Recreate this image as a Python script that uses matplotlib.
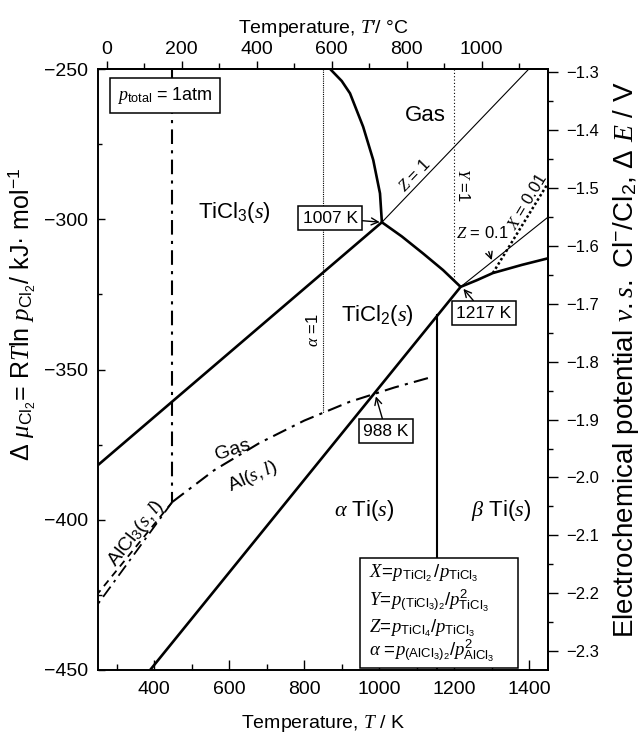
import numpy as np
import matplotlib
matplotlib.use('Agg')
import matplotlib.pyplot as plt
from matplotlib.ticker import MultipleLocator, FuncFormatter
from matplotlib.patches import Rectangle

plt.rcParams['font.family'] = ['Liberation Sans', 'Noto Sans CJK JP']
plt.rcParams['mathtext.fontset'] = 'custom'
plt.rcParams['mathtext.rm'] = 'Liberation Sans'
plt.rcParams['mathtext.sf'] = 'Liberation Sans'
plt.rcParams['mathtext.it'] = 'Liberation Serif:italic'
plt.rcParams['mathtext.bf'] = 'Liberation Sans:bold'

F2 = 192.97  # 2F, kJ per V

# --- phase boundaries (T in K, delta mu in kJ/mol) ---
ticl3_T = [250, 1007]
ticl3_mu = [-381.8, -301.0]

gas3_T = [869, 900, 922, 957, 984, 1002, 1007]
gas3_mu = [-250.0, -254.0, -258.1, -269.2, -280.3, -291.4, -301.0]

ticl2_gas_T = [1007, 1060, 1117, 1170, 1217]
ticl2_gas_mu = [-301.0, -305.7, -311.4, -316.9, -322.5]

right_T = [1217, 1260, 1303, 1380, 1450]
right_mu = [-322.5, -320.3, -317.9, -315.2, -313.0]

ti_T = [389, 1217]
ti_mu = [-450.0, -322.5]

beta_T = [1155, 1155]
beta_mu = [-331.9, -450.0]

z1_T = [1007, 1399]
z1_mu = [-301.0, -250.0]

z01_T = [1217, 1450]
z01_mu = [-322.5, -299.3]

x001_T = [1303, 1450]
x001_mu = [-317.9, -288.0]

y1_T = [1200, 1200]
y1_mu = [-250.0, -320.6]

a1_T = [850, 850]
a1_mu = [-250.0, -364.4]

# Al / AlCl3 lines
al_v_T = [448, 448]
al_v_mu = [-250.0, -394.1]

al_gas_T = [448, 560, 680, 800, 920, 1040, 1140]
al_gas_mu = [-394.1, -383.5, -374.5, -367.0, -360.8, -356.0, -352.5]

alcl3_T = [448, 250]
alcl3_mu = [-394.1, -428.0]
alcl3b_T = [448, 250]
alcl3b_mu = [-394.1, -424.5]

fig = plt.figure(figsize=(6.42, 7.34), dpi=100)
ax = fig.add_axes([98/642, 64/734, 450/642, 601/734])

thick = dict(color='black', lw=1.9, solid_capstyle='butt')
thin = dict(color='black', lw=0.8)

ax.plot(ticl3_T, ticl3_mu, **thick)
ax.plot(gas3_T, gas3_mu, **thick)
ax.plot(ticl2_gas_T, ticl2_gas_mu, **thick)
ax.plot(right_T, right_mu, **thick)
ax.plot(ti_T, ti_mu, **thick)
ax.plot(beta_T, beta_mu, color='black', lw=1.5)
ax.plot(z1_T, z1_mu, **thin)
ax.plot(z01_T, z01_mu, **thin)
ax.plot(x001_T, x001_mu, color='black', lw=1.8, ls=(0, (1, 1)))
ax.plot(y1_T, y1_mu, color='black', lw=0.8, ls=(0, (1, 2)))
ax.plot(a1_T, a1_mu, color='black', lw=0.8, ls=(0, (1, 1)))

dd = (0, (7, 3, 1.5, 3))
ax.plot(al_v_T, al_v_mu, color='black', lw=1.5, ls=dd)
ax.plot(al_gas_T, al_gas_mu, color='black', lw=1.5, ls=dd)
ax.plot(alcl3_T, alcl3_mu, color='black', lw=1.3, ls=dd)
ax.plot(alcl3b_T, alcl3b_mu, color='black', lw=1.3, ls=(0, (4, 3)))

ax.set_xlim(250, 1450)
ax.set_ylim(-450, -250)

ax.xaxis.set_major_locator(MultipleLocator(200))
ax.xaxis.set_minor_locator(MultipleLocator(100))
ax.yaxis.set_major_locator(MultipleLocator(50))
ax.yaxis.set_minor_locator(MultipleLocator(25))
minus = lambda fmt: FuncFormatter(lambda v, p: format(v, fmt).replace('-', '\u2212'))
ax.yaxis.set_major_formatter(minus('.0f'))
ax.tick_params(which='both', direction='in', top=False, right=False, labelsize=14)
ax.tick_params(axis='x', which='major', length=7, width=1, pad=8)
ax.tick_params(axis='x', which='minor', length=4.5, width=1)
ax.tick_params(axis='y', which='major', length=5, width=1, pad=7)
ax.tick_params(axis='y', which='minor', length=3, width=1)
for s in ax.spines.values():
    s.set_linewidth(1.4)

# top axis in Celsius
sec_x = ax.secondary_xaxis('top', functions=(lambda k: k - 273.15, lambda c: c + 273.15))
sec_x.set_xticks(np.arange(0, 1001, 200))
sec_x.set_xticks(np.arange(100, 1101, 200), minor=True)
sec_x.tick_params(which='both', direction='out', labelsize=14, pad=2)
sec_x.tick_params(which='major', length=6, width=1)
sec_x.tick_params(which='minor', length=4, width=1)
sec_x.spines['top'].set_linewidth(1.4)
sec_x.set_xlabel("Temperature, $T\\prime$/ \u00b0C", fontsize=14, labelpad=6)

# right axis, electrochemical potential
sec_y = ax.secondary_yaxis('right', functions=(lambda m: m / F2, lambda e: e * F2))
sec_y.set_yticks(np.arange(-2.3, -1.25, 0.1))
sec_y.set_yticks(np.arange(-2.35, -1.25, 0.1), minor=True)
sec_y.yaxis.set_major_formatter(minus('.1f'))
sec_y.tick_params(which='both', direction='out', labelsize=12, pad=6)
sec_y.tick_params(which='major', length=7, width=1)
sec_y.tick_params(which='minor', length=3.5, width=1)
sec_y.spines['right'].set_linewidth(1.4)

ax.set_xlabel('Temperature, $T$ / K', fontsize=14, labelpad=11)

fig.text(22/642, 1 - 314/734,
         '\u0394 $\\mu_{\\mathrm{Cl_2}}$= R$T$ln $p_{\\mathrm{Cl_2}}$/ kJ\u00b7 mol$^{-1}$',
         rotation=90, ha='center', va='center', fontsize=18)
fig.text(626/642, 1 - 360/734,
         'Electrochemical potential $v.s.$ Cl$^{-}$/Cl$_2$, \u0394 $E$ / V',
         rotation=90, ha='center', va='center', fontsize=20)

# region labels
big = 16
ax.text(615, -297.9, 'TiCl$_3$($s$)', fontsize=big, ha='center', va='center')
ax.text(994, -331.9, 'TiCl$_2$($s$)', fontsize=big, ha='center', va='center')
ax.text(1122, -265.6, 'Gas', fontsize=big, ha='center', va='center')
ax.text(959, -396.8, '$\\alpha$ Ti($s$)', fontsize=big, ha='center', va='center')
ax.text(1325, -396.8, '$\\beta$ Ti($s$)', fontsize=big, ha='center', va='center')
ax.text(610, -376.8, 'Gas', fontsize=14, ha='center', va='center', rotation=18)
ax.text(663, -385.8, 'Al($s,l$)', fontsize=14, ha='center', va='center', rotation=24)
ax.text(352, -404.5, 'AlCl$_3$($s,l$)', fontsize=14, ha='center', va='center', rotation=52)

ax.text(1093, -285.5, '$Z$ = 1', fontsize=12, ha='center', va='center', rotation=46)
ax.text(1223, -288.6, '$Y$ =1', fontsize=12, ha='center', va='center', rotation=-90)
ax.text(1395, -294.0, '$X$ = 0.01', fontsize=12, ha='center', va='center', rotation=59)
ax.text(823, -336.9, '$\\alpha$ =1', fontsize=12, ha='center', va='center', rotation=90)
ax.annotate('$Z$ = 0.1', xy=(1300, -313.6), xytext=(1274, -304.6), fontsize=12,
            ha='center', va='center',
            arrowprops=dict(arrowstyle='->', lw=1, shrinkA=6, shrinkB=0))

box = dict(boxstyle='square,pad=0.25', fc='white', ec='black', lw=1.1)
arrow = dict(arrowstyle='->', lw=1, shrinkA=0, shrinkB=1)
ax.annotate('1007 K', xy=(1005, -301), xytext=(869, -299.6), fontsize=12.5,
            ha='center', va='center', bbox=box, arrowprops=arrow)
ax.annotate('1217 K', xy=(1222, -322.8), xytext=(1279, -331.2), fontsize=12.5,
            ha='center', va='center', bbox=box, arrowprops=arrow)
ax.annotate('988 K', xy=(990, -358.5), xytext=(1018, -370.5), fontsize=12.5,
            ha='center', va='center', bbox=box, arrowprops=arrow)

ax.text(429, -258.8, '$p_{\\mathrm{total}}$ = 1atm', fontsize=13, ha='center', va='center',
        zorder=5, bbox=dict(boxstyle='square,pad=0.4', fc='white', ec='black', lw=1.1))

# definitions box
ax.add_patch(Rectangle((948.7, -449.2), 421, 36.5, fc='white', ec='black', lw=1.1, zorder=5))
defs = [
    '$X\\!=\\!p_{\\mathrm{TiCl_2}}\\,/p_{\\mathrm{TiCl_3}}$',
    '$Y\\!=\\!p_{\\mathrm{(TiCl_3)_2}}/p^{2}_{\\mathrm{TiCl_3}}$',
    '$Z\\!=\\!p_{\\mathrm{TiCl_4}}/p_{\\mathrm{TiCl_3}}$',
    '$\\alpha\\ \\!=\\!p_{\\mathrm{(AlCl_3)_2}}/p^{2}_{\\mathrm{AlCl_3}}$',
]
defs_y = [-417.6, -426.9, -435.9, -443.6]
for s, yy in zip(defs, defs_y):
    ax.text(972, yy, s, fontsize=13.5, ha='left', va='center', zorder=6)

fig.savefig('out.png', dpi=100)
